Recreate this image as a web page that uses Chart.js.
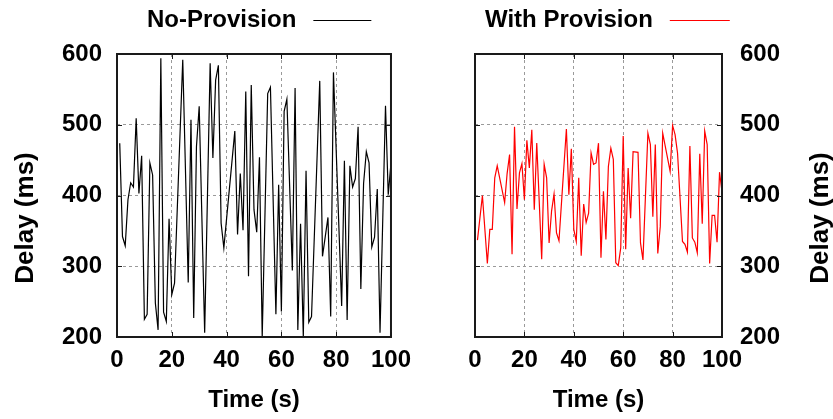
<!DOCTYPE html>
<html lang="en">
<head>
    <meta charset="UTF-8">
    <title>Delay: No-Provision vs With Provision</title>
    <style>
        * { margin: 0; padding: 0; box-sizing: border-box; }
        body { width: 833px; height: 419px; background: #fff; overflow: hidden; position: relative; }
        .panel { position: absolute; top: 0; height: 419px; }
        #leftPanel { left: 0; width: 420px; }
        #rightPanel { left: 420px; width: 413px; }
    </style>
    <script src="https://cdn.jsdelivr.net/npm/chart.js"></script>
</head>
<body>
    <div class="panel" id="leftPanel"><canvas id="leftChart" width="420" height="419"></canvas></div>
    <div class="panel" id="rightPanel"><canvas id="rightChart" width="413" height="419"></canvas></div>

    <script>
        // (time in s, delay in ms), vertices only
        const noProvTime = [1, 2, 3, 4, 5, 6, 7, 8, 9, 10, 11, 12, 13, 14, 15, 16, 17, 18, 19, 20,
            21, 24, 26, 27, 28, 29, 30, 32, 34, 35, 36, 37, 38, 39, 43, 44, 45, 46, 47, 48,
            49, 50, 51, 52, 53, 55, 56, 58, 59, 60, 61, 62, 64, 65, 66, 67, 68, 69, 70, 71,
            74, 75, 77, 78, 79, 82, 83, 84, 85, 86, 87, 88, 89, 90, 91, 92, 93, 94, 95, 96,
            98, 99, 100];
        const noProvDelay = [474, 342, 329, 394, 418, 412, 509, 403, 456, 225, 232, 446, 429, 248, 210, 594, 235, 222, 367, 260,
            276, 592, 277, 507, 227, 469, 526, 206, 587, 453, 563, 584, 361, 326, 491, 345, 431, 351, 547, 286,
            556, 380, 348, 454, 200, 544, 553, 232, 415, 236, 519, 536, 294, 552, 210, 360, 200, 435, 221, 229,
            562, 314, 369, 229, 574, 244, 449, 224, 442, 412, 424, 497, 268, 417, 462, 446, 327, 341, 409, 206,
            527, 401, 446];

        const withProvTime = [1, 3, 5, 6, 7, 8, 9, 12, 13, 14, 15, 16, 17, 18, 19, 20, 21, 22, 23, 24,
            25, 27, 28, 29, 30, 31, 32, 33, 34, 37, 38, 39, 40, 41, 42, 43, 44, 45, 46, 47,
            48, 49, 50, 51, 52, 53, 54, 55, 56, 57, 58, 59, 60, 61, 62, 63, 64, 66, 67, 68,
            70, 71, 72, 73, 74, 75, 76, 79, 80, 81, 82, 84, 85, 86, 87, 88, 89, 90, 91, 92,
            93, 94, 95, 96, 97, 98, 99, 100];
        const withProvDelay = [337, 400, 304, 352, 352, 425, 442, 390, 431, 458, 317, 497, 381, 432, 445, 394, 478, 439, 493, 380,
            474, 310, 444, 425, 333, 378, 402, 347, 336, 494, 401, 466, 352, 335, 425, 315, 388, 362, 375, 460,
            444, 446, 474, 312, 406, 338, 441, 467, 451, 305, 301, 326, 484, 324, 439, 368, 462, 461, 333, 309,
            488, 472, 370, 472, 318, 356, 488, 434, 499, 486, 460, 335, 331, 320, 470, 340, 334, 319, 459, 360,
            491, 472, 304, 372, 372, 334, 433, 405];

        const timeTicks = [0, 20, 40, 60, 80, 100];
        const delayTicks = [200, 300, 400, 500, 600];

        const FAMILY = '"Liberation Sans", Arial, sans-serif';
        const FONT = { family: FAMILY, size: 24, weight: 'bold' };

        function toPoints(xs, ys) {
            return xs.map((x, i) => ({ x: x, y: ys[i] }));
        }

        // frame around plot area plus inward tick marks (gnuplot look)
        const framePlugin = {
            id: 'frame',
            afterDatasetsDraw(chart) {
                const { ctx, chartArea: a, scales } = chart;
                ctx.save();
                ctx.strokeStyle = '#1a1a1a';
                ctx.lineWidth = 1;
                timeTicks.forEach(v => {
                    const px = Math.round(scales.x.getPixelForValue(v)) + 0.5;
                    ctx.beginPath();
                    ctx.moveTo(px, a.bottom); ctx.lineTo(px, a.bottom - 5);
                    ctx.moveTo(px, a.top); ctx.lineTo(px, a.top + 5);
                    ctx.stroke();
                });
                delayTicks.forEach(v => {
                    const py = Math.round(scales.y.getPixelForValue(v)) + 0.5;
                    ctx.beginPath();
                    ctx.moveTo(a.left, py); ctx.lineTo(a.left + 5, py);
                    ctx.moveTo(a.right, py); ctx.lineTo(a.right - 5, py);
                    ctx.stroke();
                });
                ctx.lineWidth = 2;
                ctx.strokeRect(a.left, a.top, a.right - a.left, a.bottom - a.top);
                ctx.restore();
            }
        };

        // title with line sample to the right of the text, and the rotated y label
        const headerPlugin = {
            id: 'header',
            afterDraw(chart, args, opts) {
                const { ctx } = chart;
                const ds = chart.data.datasets[0];
                ctx.save();
                ctx.font = 'bold 24px ' + FAMILY;
                ctx.fillStyle = '#000';
                ctx.textBaseline = 'middle';
                ctx.fillText(ds.label, opts.x, 20);
                const w = ctx.measureText(ds.label).width;
                ctx.strokeStyle = ds.borderColor;
                ctx.lineWidth = 1;
                ctx.beginPath();
                ctx.moveTo(opts.x + w + 17, 20.5);
                ctx.lineTo(opts.x + w + 17 + opts.lineLen, 20.5);
                ctx.stroke();

                // y label, reads bottom to top on both panels
                ctx.translate(opts.yLabelX, 218);
                ctx.rotate(-Math.PI / 2);
                ctx.font = 'bold 26px ' + FAMILY;
                ctx.textAlign = 'center';
                ctx.fillText('Delay (ms)', 0, 0);
                ctx.restore();
            }
        };

        function makeChart(id, label, color, times, delays, side) {
            const left = side === 'left';
            return new Chart(document.getElementById(id), {
                type: 'line',
                data: {
                    datasets: [{
                        label: label,
                        data: toPoints(times, delays),
                        borderColor: color,
                        borderWidth: 1.2,
                        pointRadius: 0,
                        tension: 0,
                        fill: false
                    }]
                },
                options: {
                    responsive: false,
                    animation: false,
                    layout: {
                        padding: left ? { top: 54, right: 25, left: 0, bottom: 0 }
                                      : { top: 54, right: 0, left: 55, bottom: 0 }
                    },
                    plugins: {
                        legend: { display: false },
                        tooltip: { enabled: false },
                        header: left ? { x: 147, lineLen: 58, yLabelX: 26 }
                                     : { x: 65, lineLen: 60, yLabelX: 401 }
                    },
                    scales: {
                        x: {
                            type: 'linear',
                            min: 0, max: 100,
                            afterBuildTicks: s => { s.ticks = timeTicks.map(v => ({ value: v })); },
                            afterFit: s => { s.height = 82; },
                            ticks: { font: FONT, color: '#000', padding: 9, maxRotation: 0, autoSkip: false },
                            grid: { color: '#9a9a9a', lineWidth: 1, drawTicks: false },
                            border: { display: false, dash: [3, 3] },
                            title: { display: true, text: 'Time (s)', font: FONT, color: '#000', padding: { top: 0, bottom: 4 } }
                        },
                        y: {
                            position: left ? 'left' : 'right',
                            min: 200, max: 600,
                            afterBuildTicks: s => { s.ticks = delayTicks.map(v => ({ value: v })); },
                            afterFit: s => { s.width = left ? 117 : 111; },
                            ticks: { font: FONT, color: '#000', padding: left ? 15 : 18, autoSkip: false },
                            grid: { color: '#9a9a9a', lineWidth: 1, drawTicks: false },
                            border: { display: false, dash: [3, 3] }
                        }
                    }
                },
                plugins: [framePlugin, headerPlugin]
            });
        }

        makeChart('leftChart', 'No-Provision', '#000000', noProvTime, noProvDelay, 'left');
        makeChart('rightChart', 'With Provision', '#ff0000', withProvTime, withProvDelay, 'right');
    </script>
</body>
</html>
